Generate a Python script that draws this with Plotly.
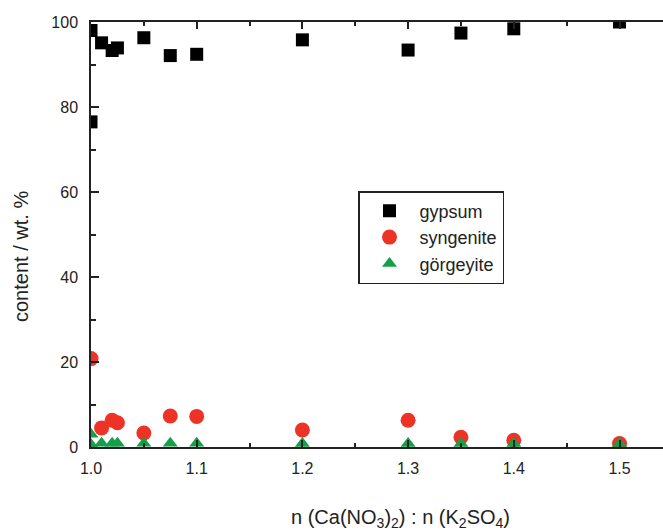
import plotly.graph_objects as go

# data
gyp_x = [1.0, 1.0, 1.01, 1.02, 1.025, 1.05, 1.075, 1.1, 1.2, 1.3, 1.35, 1.4, 1.5]
gyp_y = [98.0, 76.5, 95.1, 93.3, 93.9, 96.3, 92.1, 92.4, 95.8, 93.4, 97.4, 98.4, 100.0]
syn_x = [1.0, 1.01, 1.02, 1.025, 1.05, 1.075, 1.1, 1.2, 1.3, 1.35, 1.4, 1.5]
syn_y = [20.8, 4.5, 6.3, 5.7, 3.3, 7.3, 7.2, 4.0, 6.3, 2.3, 1.6, 0.8]
gor_x = [1.0, 1.0, 1.01, 1.02, 1.025, 1.05, 1.075, 1.1, 1.2, 1.3, 1.35, 1.4, 1.5]
gor_y = [3.0, 0.6, 0.9, 0.9, 0.9, 0.9, 0.9, 0.9, 0.8, 0.8, 0.8, 0.8, 0.8]

x_ticks = [1.0, 1.1, 1.2, 1.3, 1.4, 1.5]
x_labels = ["1.0", "1.1", "1.2", "1.3", "1.4", "1.5"]
y_ticks = [0, 20, 40, 60, 80, 100]

FONT = "Liberation Sans, Arial, sans-serif"
TXT = "#222222"

fig = go.Figure()
fig.add_trace(go.Scatter(x=gyp_x, y=gyp_y, mode="markers", name="gypsum", cliponaxis=True,
                         marker=dict(symbol="square", size=13, color="#000000")))
fig.add_trace(go.Scatter(x=syn_x, y=syn_y, mode="markers", name="syngenite", cliponaxis=True,
                         marker=dict(symbol="circle", size=15, color="#ec3326")))
fig.add_trace(go.Scatter(x=gor_x, y=gor_y, mode="markers", name="görgeyite", cliponaxis=True,
                         marker=dict(symbol="triangle-up", size=13, color="#14a04a")))

W, H = 663, 532
PL, PT, PB = 91, 22, 447          # plot left / top / bottom on screen
PR = W + 30                       # plot runs past the visible right edge
pw = PR - PL
ph = PB - PT

fig.update_layout(
    width=PR, height=H,
    margin=dict(l=PL, r=0, t=PT, b=H - PB, autoexpand=False),
    paper_bgcolor="white", plot_bgcolor="white",
    font=dict(family=FONT, size=16, color=TXT),
    showlegend=True,
    legend=dict(x=(358 - PL) / pw, y=(PB - 191) / ph, xanchor="left", yanchor="top",
                bordercolor="#222222", borderwidth=1.5, bgcolor="white",
                font=dict(family=FONT, size=18, color=TXT),
                tracegroupgap=0, itemwidth=50),
)
fig.update_xaxes(range=[1.0, 1.0 + pw / 1057.0], tickmode="array",
                 tickvals=x_ticks, ticktext=x_labels, automargin=False,
                 ticks="inside", ticklen=7, tickwidth=1.5, tickcolor="#222",
                 showline=True, linecolor="#222", linewidth=1.5, mirror="ticks",
                 showgrid=False, zeroline=False, ticklabelstandoff=6,
                 minor=dict(dtick=0.05, tick0=1.0, ticks="inside", ticklen=4,
                            tickwidth=1.5, tickcolor="#222", showgrid=False))
fig.update_yaxes(range=[0, 100], tickmode="array", tickvals=y_ticks, automargin=False,
                 ticks="inside", ticklen=8, tickwidth=1.5, tickcolor="#222",
                 showline=True, linecolor="#222", linewidth=1.5, mirror=False,
                 showgrid=False, zeroline=False, ticklabelstandoff=8,
                 minor=dict(dtick=10, tick0=0, ticks="inside", ticklen=5,
                            tickwidth=1.5, tickcolor="#222", showgrid=False))

fig.add_annotation(text="content / wt. %", xref="paper", yref="paper",
                   x=(21 - PL) / pw, y=(PB - 257) / ph, textangle=-90,
                   showarrow=False, font=dict(family=FONT, size=20, color=TXT),
                   xanchor="center", yanchor="middle")
fig.add_annotation(text="n (Ca(NO<sub>3</sub>)<sub>2</sub>) : n (K<sub>2</sub>SO<sub>4</sub>)",
                   xref="paper", yref="paper",
                   x=(400 - PL) / pw, y=(PB - 518) / ph,
                   showarrow=False, font=dict(family=FONT, size=20, color=TXT),
                   xanchor="center", yanchor="middle")

fig.write_html("out.html", config={"displayModeBar": False},
               post_script=("document.body.style.margin='0';"
                            "document.body.style.overflow='hidden';"
                            "document.documentElement.style.overflow='hidden';"))
